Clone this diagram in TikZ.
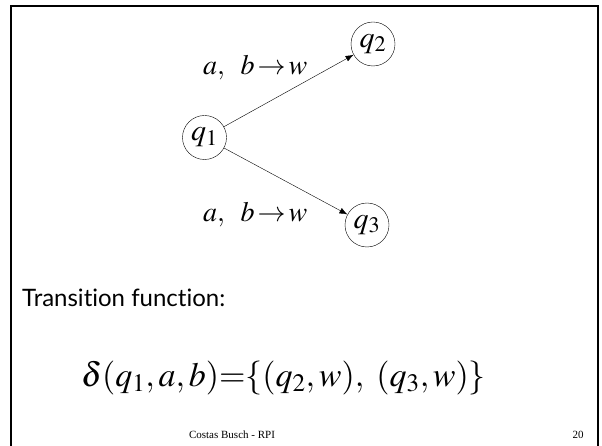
\documentclass[tikz,border=0pt]{standalone}
\usepackage{mathptmx}
\usepackage[no-math]{fontspec}
\setmainfont{Liberation Serif}
\newfontfamily\slidesans[Ligatures=NoCommon]{Lato}
\usetikzlibrary{arrows.meta}

\tikzset{
  st/.style={draw, circle, thin, minimum size=44pt, inner sep=0pt, font=\fontsize{30}{34}\selectfont},
  trans/.style={-{Latex[length=8pt,width=6pt]}, thin},
  lbl/.style={anchor=base west, inner sep=0pt, font=\fontsize{28}{32}\selectfont},
}

\begin{document}
\begin{tikzpicture}[x=1pt, y=-1pt]
  \useasboundingbox (0,0) rectangle (602,446);
  % slide frame, open at the bottom
  \draw[line width=2.5pt] (11,450) -- (11,6) -- (598,6) -- (598,450);

  % states
  \node[st] (q1) at (204.5,137.5) {$q_1$};
  \node[st] (q2) at (373,44) {$q_2$};
  \node[st] (q3) at (367,225) {$q_3$};

  % transitions
  \draw[trans] (q1) -- (q2);
  \draw[trans] (q1) -- (q3);
  \node[lbl] (l12) at (203,75) {$a,\;\; b\,{\to}\,w$};
  \node[lbl] (l13) at (203,222) {$a,\;\; b\,{\to}\,w$};

  % text
  \node[anchor=base west, inner sep=0pt, font=\slidesans\fontsize{24}{28}\selectfont] (title) at (22,306) {Transition function:};
  \node[anchor=base west, inner sep=0pt, font=\fontsize{34}{38}\selectfont] (delta) at (81,386) {$\delta(q_1,a,b){=}\{(q_2,w),\ (q_3,w)\}$};

  % footer
  \node[anchor=base, inner sep=0pt, font=\fontsize{11}{13}\selectfont] (foot) at (232,438) {Costas Busch - RPI};
  \node[anchor=base, inner sep=0pt, font=\fontsize{11}{13}\selectfont] (page) at (578,438) {20};
\end{tikzpicture}
\end{document}
